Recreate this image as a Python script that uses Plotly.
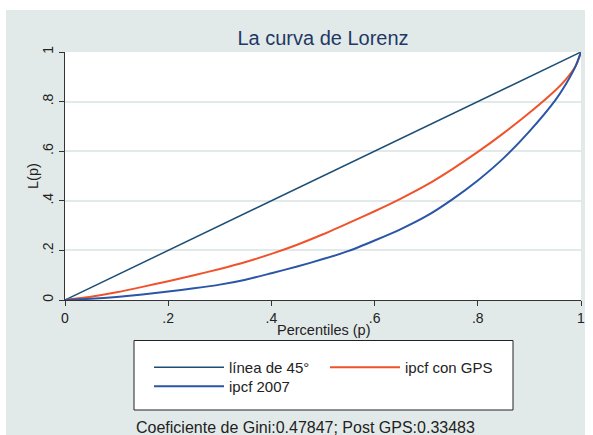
import plotly.graph_objects as go

# Percentile grid (p) and Lorenz ordinates
p = [0, 0.05, 0.10, 0.15, 0.20, 0.25, 0.30, 0.35, 0.40, 0.45, 0.50, 0.55,
     0.60, 0.65, 0.70, 0.75, 0.80, 0.85, 0.90, 0.95, 0.97, 0.99, 1.0]
lorenz_2007 = [0, 0.005, 0.012, 0.022, 0.034, 0.047, 0.062, 0.082, 0.108, 0.135,
               0.165, 0.198, 0.240, 0.285, 0.338, 0.405, 0.482, 0.572, 0.680,
               0.805, 0.868, 0.945, 1.0]
lorenz_gps = [0, 0.013, 0.031, 0.053, 0.076, 0.100, 0.125, 0.153, 0.186, 0.223,
              0.265, 0.311, 0.358, 0.408, 0.463, 0.527, 0.597, 0.673, 0.755,
              0.845, 0.888, 0.945, 1.0]
diag_x = [0, 1]
diag_y = [0, 1]

tick_vals = [0, 0.2, 0.4, 0.6, 0.8, 1]
tick_text = ["0", ".2", ".4", ".6", ".8", "1"]

title_text = "La curva de Lorenz"
x_title = "Percentiles (p)"
y_title = "L(p)"
note_text = "Coeficiente de Gini:0.47847; Post GPS:0.33483"

FONT = "Liberation Sans, Arial, sans-serif"
BG = "#e2eae9"
TXT = "#222222"

fig = go.Figure()
fig.add_trace(go.Scatter(x=diag_x, y=diag_y, mode="lines", name="línea de 45°",
                         legend="legend",
                         line=dict(color="#1c4e75", width=1.5)))
fig.add_trace(go.Scatter(x=p, y=lorenz_gps, mode="lines", name="ipcf con GPS",
                         legend="legend",
                         line=dict(color="#f0532b", width=2, shape="spline",
                                   smoothing=0.6)))
fig.add_trace(go.Scatter(x=p, y=lorenz_2007, mode="lines", name="ipcf 2007",
                         legend="legend2",
                         line=dict(color="#2b56a5", width=2, shape="spline",
                                   smoothing=0.6)))

L, R, T, B = 65, 12, 52, 135
W, H = 593, 435
pw, ph = W - L - R, H - T - B


def px2x(px):
    return (px - L) / pw


def py2y(py):
    return (H - B - py) / ph


shapes = [
    dict(type="rect", xref="paper", yref="paper", layer="below",
         x0=px2x(6), x1=px2x(585), y0=py2y(440), y1=py2y(10),
         fillcolor=BG, line=dict(width=0)),
    dict(type="rect", xref="paper", yref="paper", layer="below",
         x0=0, x1=1, y0=0, y1=1, fillcolor="white", line=dict(width=0)),
    # legend frame
    dict(type="rect", xref="paper", yref="paper", layer="below",
         x0=px2x(134), x1=px2x(513), y0=py2y(410), y1=py2y(340.5),
         fillcolor="white", line=dict(width=1, color="#222222")),
]

legend_common = dict(orientation="h", xanchor="left", yanchor="top",
                     bgcolor="rgba(0,0,0,0)", borderwidth=0,
                     font=dict(size=15, color=TXT), entrywidth=91, itemwidth=70,
                     traceorder="normal")

fig.update_layout(
    width=W, height=H,
    margin=dict(l=L, r=R, t=T, b=B, pad=0, autoexpand=False),
    paper_bgcolor="white", plot_bgcolor="rgba(0,0,0,0)",
    font=dict(family=FONT, size=14, color=TXT),
    shapes=shapes,
    title=dict(text=title_text, x=px2x(323), xref="paper", xanchor="center",
               y=1 - 38 / H, yanchor="middle",
               font=dict(size=20, color="#1f3864", family=FONT)),
    xaxis=dict(range=[0, 1], tickvals=tick_vals, ticktext=tick_text,
               showgrid=False, zeroline=False, showline=True, linecolor="#333333",
               linewidth=1, ticks="outside", ticklen=5, tickcolor="#333333",
               tickfont=dict(size=14, color=TXT)),
    yaxis=dict(range=[0, 1], tickvals=tick_vals, ticktext=tick_text,
               showgrid=True, gridcolor=BG, gridwidth=1.5, zeroline=False,
               showline=True, linecolor="#333333", linewidth=1,
               ticks="outside", ticklen=5, tickcolor="#333333",
               tickangle=-90, tickfont=dict(size=14, color=TXT)),
    legend=dict(x=px2x(149), y=py2y(351), **legend_common),
    legend2=dict(x=px2x(149), y=py2y(370), **legend_common),
    annotations=[
        dict(text=x_title, x=px2x(323), y=py2y(330), xref="paper", yref="paper",
             xanchor="center", yanchor="middle", showarrow=False,
             font=dict(size=14.5, color=TXT)),
        dict(text=y_title, x=px2x(33), y=py2y(176), xref="paper", yref="paper",
             xanchor="center", yanchor="middle", showarrow=False, textangle=-90,
             font=dict(size=14.5, color=TXT)),
        dict(text=note_text, x=px2x(305), y=py2y(427), xref="paper",
             yref="paper", xanchor="center", yanchor="middle",
             showarrow=False, font=dict(size=16, color=TXT)),
    ],
)

fig.write_html("out.html", config={"displayModeBar": False},
               post_script="document.body.style.margin='0';"
                           "document.body.style.overflow='hidden';")
